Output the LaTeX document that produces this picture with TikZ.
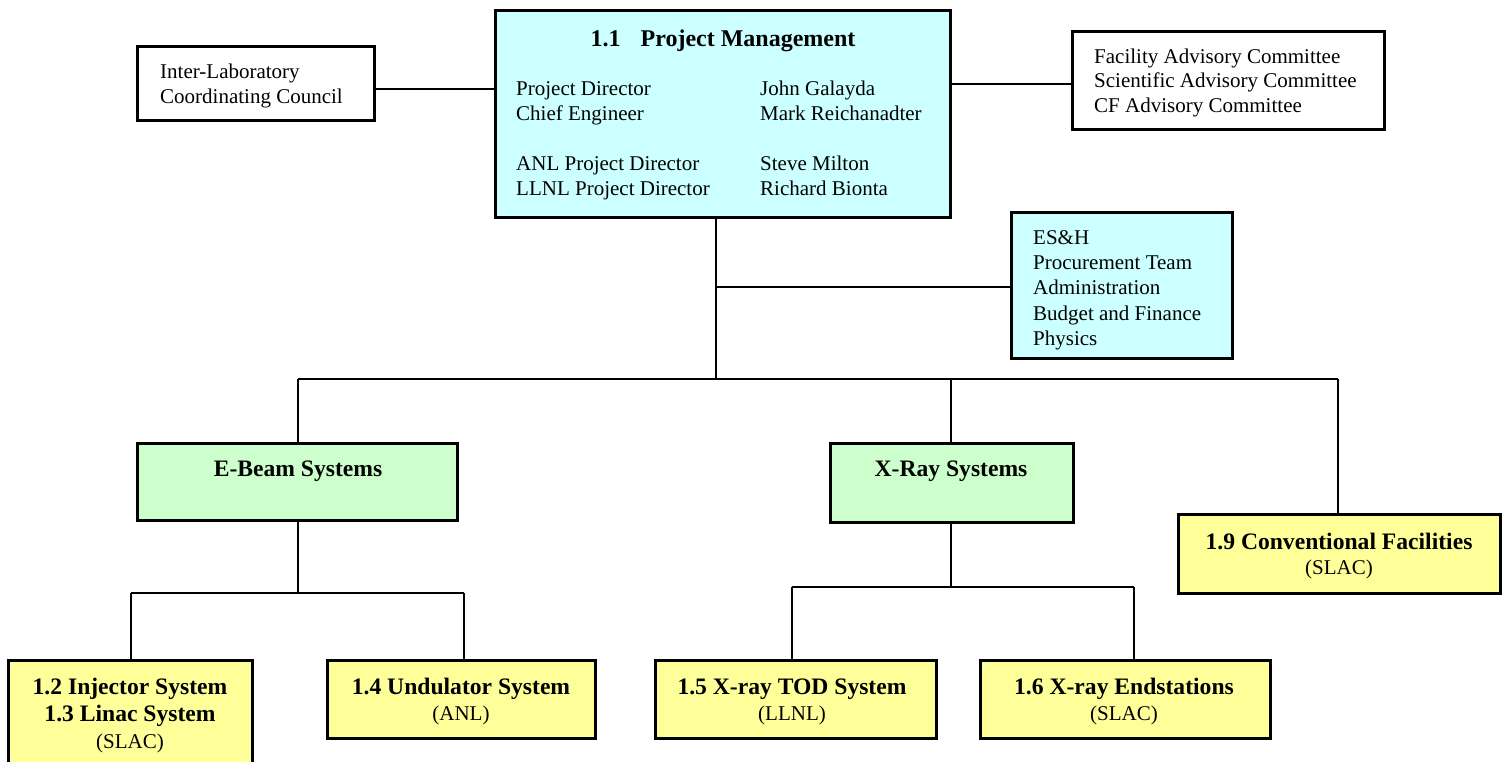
\documentclass[tikz,border=0pt]{standalone}
\usepackage{fontspec}
\setmainfont{Liberation Serif}
\definecolor{pmcyan}{HTML}{CCFFFF}
\definecolor{sysgreen}{HTML}{CCFFCC}
\definecolor{wbsyellow}{HTML}{FFFF99}
\begin{document}
\begin{tikzpicture}[x=1pt,y=-1pt,
  box/.style={draw=black,line width=3pt,rectangle,inner sep=0pt},
  conn/.style={draw=black,line width=1.5pt},
  txt/.style={inner sep=0pt,yshift=-4.5pt,font=\fontsize{21}{25}\selectfont},
  btxt/.style={inner sep=0pt,yshift=-4.5pt,font=\fontsize{23.6}{27}\selectfont\bfseries}]
\useasboundingbox (0,0) rectangle (1504,762);
\clip (0,0) rectangle (1504,762);
% boxes
\node[box,fill=pmcyan,minimum width=455pt,minimum height=207pt] (PM) at (722.5,114.5) {};
\node[box,fill=white,minimum width=237pt,minimum height=74pt] (IL) at (255.5,84) {};
\node[box,fill=white,minimum width=312pt,minimum height=98pt] (ADV) at (1228,81) {};
\node[box,fill=pmcyan,minimum width=221pt,minimum height=145pt] (ESH) at (1121.5,285.5) {};
\node[box,fill=sysgreen,minimum width=320pt,minimum height=77pt] (EB) at (297,481.5) {};
\node[box,fill=sysgreen,minimum width=243pt,minimum height=79pt] (XR) at (951.5,482.5) {};
\node[box,fill=wbsyellow,minimum width=322pt,minimum height=79pt] (CF) at (1339,553.5) {};
\node[box,fill=wbsyellow,minimum width=244pt,minimum height=130pt] (INJ) at (130,725) {};
\node[box,fill=wbsyellow,minimum width=268pt,minimum height=78pt] (UND) at (461,699) {};
\node[box,fill=wbsyellow,minimum width=281pt,minimum height=78pt] (TOD) at (795.5,699) {};
\node[box,fill=wbsyellow,minimum width=290pt,minimum height=78pt] (END) at (1125,699) {};
% connectors
\coordinate (il) at (374,89);
\draw[conn] (il) -- (il -| PM.west);
\coordinate (adv) at (950,84);
\draw[conn] (adv -| PM.east) -- (adv -| ADV.west);
\coordinate (t) at (716,379);
\coordinate (e) at (716,287);
\draw[conn] (PM.south -| t) -- (t);
\draw[conn] (e) -- (e -| ESH.west);
\coordinate (tl) at (298,379);
\coordinate (tr) at (1338,379);
\coordinate (tx) at (951,379);
\draw[conn] (tl) -- (tr);
\draw[conn] (tl) -- (tl |- EB.north);
\draw[conn] (tx) -- (tx |- XR.north);
\draw[conn] (tr) -- (tr |- CF.north);
\coordinate (eb) at (298,593);
\coordinate (eb1) at (131,593);
\coordinate (eb2) at (464,593);
\draw[conn] (eb |- EB.south) -- (eb);
\draw[conn] (eb1) -- (eb2);
\draw[conn] (eb1) -- (eb1 |- INJ.north);
\draw[conn] (eb2) -- (eb2 |- UND.north);
\coordinate (xr) at (951,587);
\coordinate (xr1) at (792,587);
\coordinate (xr2) at (1134,587);
\draw[conn] (xr |- XR.south) -- (xr);
\draw[conn] (xr1) -- (xr2);
\draw[conn] (xr1) -- (xr1 |- TOD.north);
\draw[conn] (xr2) -- (xr2 |- END.north);
% texts
\node[btxt,font=\fontsize{24}{28}\selectfont\bfseries] (pmt) at (723,36) {1.1\hspace{20pt}Project Management};
\foreach \t/\y [count=\i] in {Project Director/89,Chief Engineer/114,ANL Project Director/164,LLNL Project Director/189}
  \node[txt,anchor=mid west] (pml\i) at (516,\y) {\t};
\foreach \t/\y [count=\i] in {John Galayda/89,Mark Reichanadter/114,Steve Milton/164,Richard Bionta/189}
  \node[txt,anchor=mid west] (pmr\i) at (760,\y) {\t};
\foreach \t/\y [count=\i] in {Inter-Laboratory/72,Coordinating Council/97}
  \node[txt,anchor=mid west] (ilt\i) at (160,\y) {\t};
\foreach \t/\y [count=\i] in {Facility Advisory Committee/57,Scientific Advisory Committee/81,CF Advisory Committee/106}
  \node[txt,anchor=mid west] (advt\i) at (1094,\y) {\t};
\foreach \t/\y [count=\i] in {ES\&H/238,Procurement Team/263,Administration/288,Budget and Finance/314,Physics/339}
  \node[txt,anchor=mid west] (esht\i) at (1033,\y) {\t};
\node[btxt,anchor=mid] (ebt) at (298,470) {E-Beam Systems};
\node[btxt,anchor=mid] (xrt) at (951,470) {X-Ray Systems};
\node[btxt,anchor=mid] (cft) at (1339,543) {1.9 Conventional Facilities};
\node[txt,anchor=mid] (cfs) at (1339,568) {(SLAC)};
\node[btxt,anchor=mid] (inj1) at (130,688) {1.2 Injector System};
\node[btxt,anchor=mid] (inj2) at (130,715) {1.3 Linac System};
\node[txt,anchor=mid] (injs) at (130,742) {(SLAC)};
\node[btxt,anchor=mid] (undt) at (461,688) {1.4 Undulator System};
\node[txt,anchor=mid] (unds) at (461,714) {(ANL)};
\node[btxt,anchor=mid] (todt) at (792,688) {1.5 X-ray TOD System};
\node[txt,anchor=mid] (tods) at (792,714) {(LLNL)};
\node[btxt,anchor=mid] (endt) at (1124,688) {1.6 X-ray Endstations};
\node[txt,anchor=mid] (ends) at (1124,714) {(SLAC)};
\end{tikzpicture}
\end{document}
